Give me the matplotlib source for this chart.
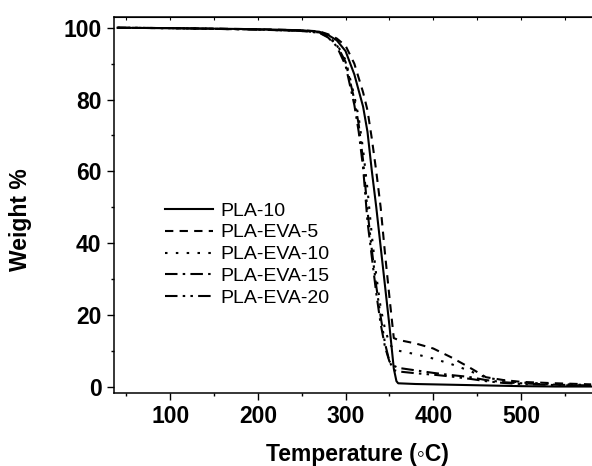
import matplotlib
matplotlib.use("Agg")
import matplotlib.pyplot as plt
from matplotlib.ticker import MultipleLocator

# ---------------------------------------------------------------------------
# TGA data (temperature in C, weight in %)
# ---------------------------------------------------------------------------
labels = ["PLA-10", "PLA-EVA-5", "PLA-EVA-10", "PLA-EVA-15", "PLA-EVA-20"]

t_pla10 = [40, 100, 200, 250, 270, 280, 290, 300, 310, 320, 325, 330, 335, 340,
           345, 350, 355, 358, 360, 380, 400, 420, 440, 460, 500, 540, 580]
w_pla10 = [100, 99.9, 99.6, 99.3, 98.9, 98, 96.5, 93.5, 87, 78, 71, 60, 50, 39,
           28, 17, 5, 1.5, 0.9, 0.7, 0.6, 0.5, 0.4, 0.3, 0.1, 0.0, 0.0]

t_eva5 = [40, 100, 200, 250, 270, 280, 290, 300, 310, 320, 325, 330, 335, 340,
          345, 350, 355, 360, 380, 400, 420, 440, 460, 480, 500, 540, 580]
w_eva5 = [100, 99.9, 99.6, 99.3, 99.0, 98.2, 97, 95, 90, 82, 77, 69, 60, 50,
          37, 25, 13.5, 13, 12, 10.6, 8.2, 5.5, 2.6, 1.8, 1.3, 0.9, 0.6]

t_eva10 = [40, 100, 200, 250, 270, 280, 290, 300, 310, 315, 320, 325, 330, 335,
           340, 345, 350, 355, 360, 380, 400, 420, 440, 460, 480, 500, 540, 580]
w_eva10 = [100, 99.9, 99.5, 99.2, 98.8, 97.6, 95.5, 91, 81, 75, 66, 55, 42, 31,
           22, 16, 12, 10.3, 10, 9.0, 7.8, 6.3, 4.5, 2.5, 1.7, 1.1, 0.7, 0.4]

t_eva15 = [40, 100, 200, 250, 270, 280, 290, 300, 310, 315, 320, 325, 330, 335,
           340, 345, 350, 355, 360, 380, 400, 420, 440, 460, 480, 500, 540, 580]
w_eva15 = [100, 99.9, 99.5, 99.1, 98.6, 97.3, 94.8, 89.5, 78.5, 71, 61, 46, 36, 26,
           17.5, 11, 7, 5.8, 5.2, 4.5, 3.8, 3.2, 2.7, 1.8, 1.2, 0.9, 0.5, 0.3]

t_eva20 = [40, 100, 200, 250, 270, 280, 290, 300, 310, 315, 320, 325, 330, 335,
           340, 345, 350, 355, 360, 380, 400, 420, 440, 460, 480, 500, 540, 580]
w_eva20 = [100, 99.9, 99.5, 99.1, 98.7, 97.5, 95.2, 90.5, 80, 73, 63, 49, 38, 28,
           19.5, 12, 7, 4.6, 4.2, 3.7, 3.3, 2.8, 2.2, 1.5, 1.0, 0.7, 0.4, 0.2]

temps = [t_pla10, t_eva5, t_eva10, t_eva15, t_eva20]
weights = [w_pla10, w_eva5, w_eva10, w_eva15, w_eva20]
styles = ["-", (0, (4, 3)), (0, (1.2, 4)), (0, (6, 2.5, 1.2, 2.5)),
          (0, (6, 2.5, 1.2, 2.5, 1.2, 2.5))]

# ---------------------------------------------------------------------------
# Plot
# ---------------------------------------------------------------------------
FONT = ["Liberation Sans", "DejaVu Sans"]
plt.rcParams["font.family"] = FONT

fig = plt.figure(figsize=(5.92, 4.66), dpi=100)
ax = fig.add_axes([0.1926, 0.1567, 0.8326, 0.8068])

for t, w, ls, lab in zip(temps, weights, styles, labels):
    ax.plot(t, w, color="black", lw=1.5, linestyle=ls, label=lab)

ax.set_xlim(36, 598)
ax.set_ylim(-1.8, 103)

ax.xaxis.set_major_locator(MultipleLocator(100))
ax.xaxis.set_minor_locator(MultipleLocator(50))
ax.yaxis.set_major_locator(MultipleLocator(20))
ax.yaxis.set_minor_locator(MultipleLocator(10))

ax.tick_params(which="major", direction="out", length=5, width=1, pad=4,
               labelsize=16.5)
ax.tick_params(which="minor", direction="out", length=2.5, width=1)
for lbl in ax.get_xticklabels() + ax.get_yticklabels():
    lbl.set_fontweight("bold")

for side in ["left", "bottom", "top"]:
    ax.spines[side].set_linewidth(1.1)
ax.spines["right"].set_visible(False)

top = ax.secondary_xaxis("top")
top.xaxis.set_major_locator(MultipleLocator(50))
top.tick_params(direction="in", length=2, labeltop=False)

ax.set_xlabel("Temperature (\u25e6C)", fontsize=16.5, fontweight="bold")
ax.set_ylabel("Weight %", fontsize=16.5, fontweight="bold")
ax.xaxis.set_label_coords(0.493, -0.133)
ax.yaxis.set_label_coords(-0.166, 0.46)

ax.legend(loc="upper left", bbox_to_anchor=(0.103, 0.508), frameon=False,
          fontsize=14, handlelength=2.5, handletextpad=0.35, labelspacing=0.22,
          borderpad=0, borderaxespad=0)

fig.savefig("out.png", dpi=100)
